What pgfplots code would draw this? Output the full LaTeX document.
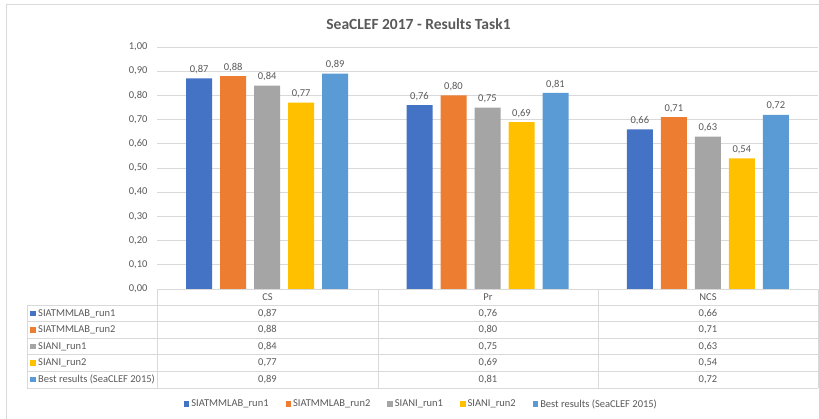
\documentclass[border=0pt]{standalone}
\usepackage{pgfplots}
\usepackage{pgfplotstable}
\pgfplotsset{compat=1.18}
\usepackage{fontspec}
\setmainfont{Carlito}
\definecolor{c1}{HTML}{4472C4}
\definecolor{c2}{HTML}{ED7D31}
\definecolor{c3}{HTML}{A5A5A5}
\definecolor{c4}{HTML}{FFC000}
\definecolor{c5}{HTML}{5B9BD5}
\definecolor{txt}{HTML}{595959}
\definecolor{gridc}{HTML}{D9D9D9}
\pgfplotstableread{
cat s1 s2 s3 s4 s5
0 0.87 0.88 0.84 0.77 0.89
1 0.76 0.80 0.75 0.69 0.81
2 0.66 0.71 0.63 0.54 0.72
}\data
\newcommand{\lblfont}{\fontsize{10.5}{12}\selectfont}
\begin{document}
\begin{tikzpicture}
\useasboundingbox (0pt,0pt) rectangle (819pt,-418pt);
\begin{axis}[
  at={(157pt,-289pt)}, anchor=south west,
  scale only axis, width=661pt, height=242pt,
  xmin=-0.5, xmax=2.5, ymin=0, ymax=1,
  ybar=8pt, bar width=26pt,
  xtick=\empty,
  ytick={0,0.1,0.2,0.3,0.4,0.5,0.6,0.7,0.8,0.9,1},
  ymajorgrids, grid style={gridc, line width=0.8pt},
  axis line style={draw=none},
  major tick length=0pt,
  clip=false,
  yticklabel style={font=\lblfont, text=txt, xshift=-6pt, /pgf/number format/.cd, fixed, fixed zerofill, precision=2, use comma, assume math mode=true},
  nodes near coords,
  nodes near coords style={font=\lblfont, text=txt, yshift=1pt, /pgf/number format/.cd, fixed, fixed zerofill, precision=2, use comma, assume math mode=true},
  legend columns=5,
  legend style={at={(0.40,-0.475)}, anchor=center, draw=none, font=\lblfont, text=txt,
    /tikz/every even column/.append style={column sep=15pt}},
  legend image code/.code={\fill[#1] (0pt,-2.7pt) rectangle (5.5pt,2.7pt);},
]
\addplot[fill=c1, draw=none] table[x=cat, y=s1] {\data};
\addplot[fill=c2, draw=none] table[x=cat, y=s2] {\data};
\addplot[fill=c3, draw=none] table[x=cat, y=s3] {\data};
\addplot[fill=c4, draw=none] table[x=cat, y=s4] {\data};
\addplot[fill=c5, draw=none] table[x=cat, y=s5] {\data};
\legend{SIATMMLAB\_run1, SIATMMLAB\_run2, SIANI\_run1, SIANI\_run2, Best results (SeaCLEF 2015)}
\end{axis}
\begin{scope}[x=1pt,y=1pt]
\draw[gridc, line width=0.8pt] (6.5,-430) -- (6.5,-4.5) -- (830,-4.5);
\node[font=\fontsize{15.5}{18}\selectfont\bfseries, text=txt, anchor=base] at (418.5,-29) {SeaCLEF 2017 - Results Task1};
% data table
\draw[gridc, line width=0.8pt] (157,-289) -- (818,-289);
\foreach \y in {305,321.5,338,354.5,371,388} \draw[gridc, line width=0.8pt] (27,-\y) -- (818,-\y);
\draw[gridc, line width=0.8pt] (27,-305) -- (27,-388);
\foreach \x in {157,378,598,818} \draw[gridc, line width=0.8pt] (\x,-289) -- (\x,-388);
\begin{scope}[every node/.style={font=\lblfont, text=txt, inner sep=0pt}]
\node at (267.5,-297) {CS};
\node at (488,-297) {Pr};
\node at (708,-297) {NCS};
\foreach \name/\col/\a/\b/\c [count=\i] in {
  SIATMMLAB\_run1/c1/0{,}87/0{,}76/0{,}66,
  SIATMMLAB\_run2/c2/0{,}88/0{,}80/0{,}71,
  SIANI\_run1/c3/0{,}84/0{,}75/0{,}63,
  SIANI\_run2/c4/0{,}77/0{,}69/0{,}54,
  Best results (SeaCLEF 2015)/c5/0{,}89/0{,}81/0{,}72}{
  \pgfmathsetmacro{\yy}{-305-16.6*\i+8.3}
  \fill[\col] (30,\yy-2.7) rectangle (35.5,\yy+2.7);
  \node[anchor=west] at (38,\yy) {\name};
  \node at (267.5,\yy) {\a};
  \node at (488,\yy) {\b};
  \node at (708,\yy) {\c};
}
\end{scope}
\end{scope}
\end{tikzpicture}
\end{document}
